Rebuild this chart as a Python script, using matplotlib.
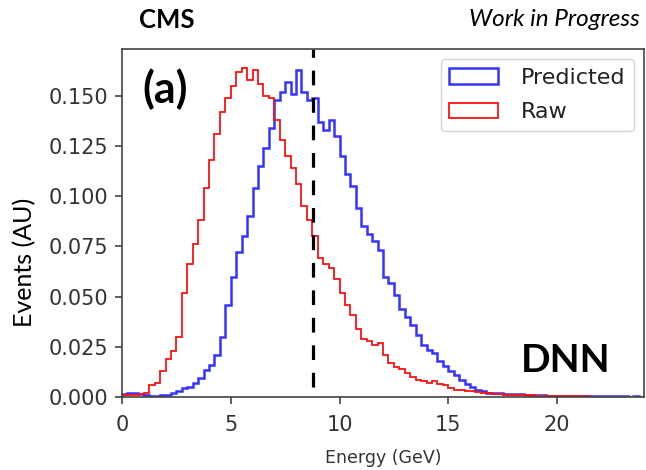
import numpy as np
import matplotlib.pyplot as plt

# Histogram contents, bin width 0.25 GeV starting at 0
bin_width = 0.25

raw_counts = [
    0.001, 0.001, 0.001, 0.0015, 0.002, 0.006, 0.007, 0.013,
    0.019, 0.023, 0.030, 0.052, 0.066, 0.076, 0.088, 0.104,
    0.118, 0.131, 0.142, 0.149, 0.155, 0.162, 0.164, 0.158,
    0.163, 0.156, 0.150, 0.149, 0.138, 0.128, 0.120, 0.114,
    0.106, 0.095, 0.088, 0.080, 0.069, 0.066, 0.064, 0.059,
    0.052, 0.046, 0.041, 0.034, 0.029, 0.028, 0.026, 0.027,
    0.021, 0.017, 0.015, 0.014, 0.012, 0.010, 0.0085, 0.008,
    0.007, 0.008, 0.0065, 0.006, 0.0045, 0.0035, 0.0035, 0.003,
    0.003, 0.0025, 0.002, 0.0018, 0.0015, 0.0015, 0.0012, 0.0012,
    0.001, 0.0012, 0.0008, 0.0008, 0.0006, 0.0005, 0.0005, 0.0004,
    0.0004, 0.0003, 0.0003, 0.0006, 0.0006, 0.0003,
]

predicted_counts = [
    0.0015, 0.0018, 0.002, 0.0015, 0.0008, 0.0006, 0.0006, 0.0008,
    0.001, 0.0018, 0.003, 0.0045, 0.0052, 0.0068, 0.0095, 0.0135,
    0.016, 0.021, 0.030, 0.046, 0.060, 0.072, 0.080, 0.090,
    0.104, 0.115, 0.124, 0.134, 0.148, 0.152, 0.157, 0.151,
    0.163, 0.152, 0.148, 0.149, 0.137, 0.133, 0.138, 0.130,
    0.120, 0.111, 0.105, 0.094, 0.085, 0.081, 0.0775, 0.073,
    0.060, 0.057, 0.051, 0.044, 0.040, 0.036, 0.031, 0.026,
    0.0235, 0.022, 0.018, 0.0155, 0.013, 0.011, 0.0085, 0.0065,
    0.0048, 0.0035, 0.003, 0.0022, 0.002, 0.0018, 0.0016, 0.0015,
    0.0014, 0.0013, 0.0012, 0.001, 0.0009, 0.0008, 0.0007, 0.0006,
    0.0006, 0.0005, 0.0006, 0.0005, 0.0004, 0.0005, 0.0004, 0.0004,
    0.0003, 0.0004, 0.0003, 0.0003, 0.0003, 0.0002, 0.0003, 0.0002,
]

cut_energy = 8.8
x_ticks = [0, 5, 10, 15, 20]

raw_edges = np.arange(len(raw_counts) + 1) * bin_width
pred_edges = np.arange(len(predicted_counts) + 1) * bin_width

fig = plt.figure(figsize=(6.46, 4.70), dpi=100)
ax = fig.add_axes([0.1889, 0.1553, 0.8080, 0.7404])

ax.hist(pred_edges[:-1], bins=pred_edges, weights=predicted_counts,
        histtype='step', color='#1010ff', linewidth=1.8, alpha=0.85,
        label='Predicted')
ax.hist(raw_edges[:-1], bins=raw_edges, weights=raw_counts,
        histtype='step', color='#ff1010', linewidth=1.3, label='Raw')

# dashed cut line
ax.axvline(cut_energy, ymin=0.028, ymax=1.0, color='black', linewidth=2.3,
           linestyle=(0, (4.6, 4.0)))

ax.set_xlim(0, 24)
ax.set_ylim(0, 0.1733)
ax.set_xticks(x_ticks)
ax.set_yticks(np.arange(0, 0.16, 0.025))
ax.yaxis.set_major_formatter(plt.FormatStrFormatter('%.3f'))
ax.tick_params(labelsize=15, colors='#333333', length=5, width=1.1, pad=5)
ax.tick_params(axis='x', pad=8)
for side in ax.spines.values():
    side.set_color('#444444')
    side.set_linewidth(1.2)

ax.set_xlabel('Energy (GeV)', fontsize=12.5, color='#333333', labelpad=10)

leg = ax.legend(loc='upper right', fontsize=16, framealpha=0.8,
                edgecolor='#cccccc', borderaxespad=0.45, handlelength=2.2,
                handletextpad=1.0, labelspacing=0.65)
for t in leg.get_texts():
    t.set_color('#222222')

# annotations
fig.text(25 / 646, 1 - 262 / 470, 'Events (AU)', rotation=90, fontsize=18,
         family='Lato', ha='center', va='center')
fig.text(142 / 646, 1 - 89 / 470, '(a)', fontsize=31, fontweight='bold',
         family='Lato', ha='left', va='center')
fig.text(521 / 646, 1 - 360 / 470, 'DNN', fontsize=28, fontweight='bold',
         family='Lato', ha='left', va='center')
fig.text(139 / 646, 1 - 20 / 470, 'CMS', fontsize=18.5, fontweight='bold',
         family='Lato', ha='left', va='center')
fig.text(640 / 646, 1 - 20 / 470, 'Work in Progress', fontsize=17.5,
         style='italic', family='Lato', ha='right', va='center')

fig.savefig('out.png', dpi=100)
